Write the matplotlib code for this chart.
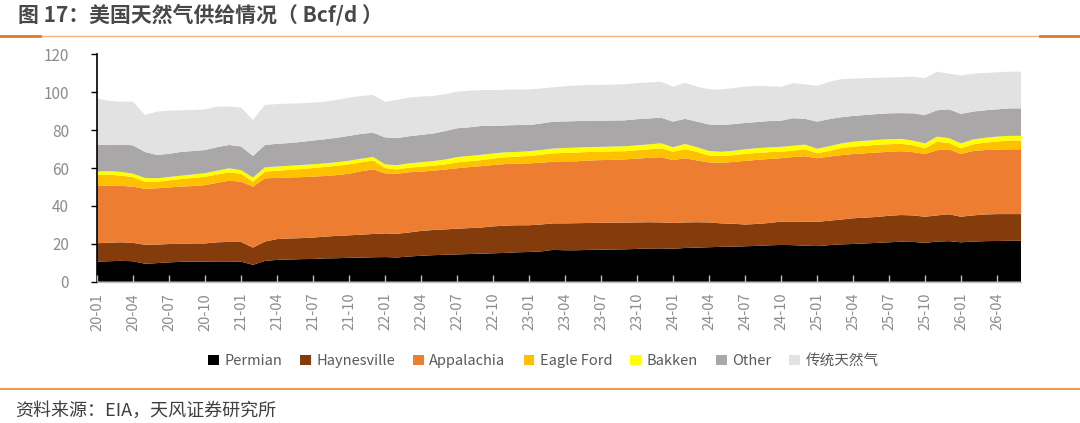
import matplotlib
matplotlib.use("Agg")
import matplotlib.pyplot as plt
from matplotlib.patches import Patch
from matplotlib.lines import Line2D
import numpy as np

plt.rcParams['font.family'] = ['Noto Sans CJK SC', 'DejaVu Sans']

# ---------------- data (Bcf/d), monthly 2020-01 .. 2026-06 ----------------
months = [f"{y:02d}-{m:02d}" for y in range(20, 27) for m in range(1, 13)][:78]

permian = [10.6,10.8,11.0,10.8,9.5,9.8,10.2,10.5,10.6,10.6,10.7,10.7,10.6,8.9,11.0,11.5,11.7,11.9,12.0,12.3,
           12.4,12.6,12.7,12.9,13.0,12.8,13.3,13.7,14.0,14.2,14.4,14.6,14.8,15.0,15.2,15.5,15.7,16.0,16.8,
           16.6,16.6,16.8,16.9,17.0,17.1,17.3,17.5,17.6,17.4,17.8,18.0,18.2,18.4,18.5,18.7,18.9,19.2,19.4,
           19.3,19.0,18.8,19.3,19.7,19.9,20.2,20.5,20.8,21.1,21.0,20.5,21.2,21.4,20.8,21.2,21.4,21.5,21.6,21.6]
haynesville = [9.7,9.8,9.8,9.7,10.0,9.8,9.7,9.5,9.6,9.6,10.1,10.3,10.4,9.1,10.2,11.0,11.1,11.1,11.3,11.5,
               11.8,11.9,12.1,12.3,12.5,12.5,12.7,13.1,13.3,13.4,13.6,13.7,13.8,14.2,14.4,14.3,14.1,14.2,14.0,
               14.2,14.3,14.2,14.2,14.2,14.1,14.0,13.9,13.7,13.6,13.5,13.4,13.1,12.4,12.1,11.5,11.6,11.8,12.3,
               12.5,12.7,12.8,12.9,13.1,13.6,13.6,13.7,14.0,14.1,14.0,13.8,13.8,14.2,13.5,13.8,14.1,14.2,14.1,14.1]
appalachia = [30.2,30.1,29.8,29.7,29.5,29.7,29.9,30.2,30.3,30.8,31.4,32.3,31.8,32.2,33.4,32.3,32.2,32.2,32.2,32.0,
              32.1,32.5,33.5,34.1,31.7,31.7,31.8,31.3,31.3,31.6,31.9,32.2,32.4,32.4,32.5,32.5,32.7,32.6,32.6,
              32.7,32.7,33.0,33.1,33.1,33.4,33.7,34.0,34.4,33.2,33.9,32.6,31.7,32.0,32.6,33.6,33.8,33.8,33.5,
              34.0,34.5,33.6,33.8,34.0,33.9,34.0,34.0,33.8,33.7,33.4,33.1,34.4,34.3,33.1,34.0,34.0,34.0,34.2,34.2]
eagle_ford = [5.8,5.8,5.4,5.0,3.8,3.5,3.7,4.0,4.3,4.4,4.4,4.4,4.2,2.6,3.5,3.8,4.0,4.3,4.5,4.8,
              4.9,5.0,4.7,4.7,2.8,2.3,2.4,2.6,2.6,2.7,3.1,3.1,3.2,3.4,3.6,3.7,3.9,4.2,4.4,
              4.5,4.6,4.5,4.4,4.5,4.3,4.4,4.5,4.7,4.4,4.7,4.5,3.6,3.6,3.6,3.7,3.7,3.6,3.4,
              3.4,3.7,2.6,3.0,3.7,3.9,4.0,4.1,4.0,3.9,3.6,3.0,4.5,3.3,3.0,3.5,3.9,4.3,4.6,4.6]
bakken = [1.8,1.9,2.0,1.8,2.0,1.8,1.8,1.8,1.8,1.9,2.0,2.2,1.9,2.2,2.3,2.2,2.2,2.1,2.0,1.9,
          1.9,1.9,1.9,1.9,2.0,2.2,2.3,2.4,2.5,2.6,2.8,2.8,2.8,2.7,2.6,2.5,2.5,2.5,2.5,
          2.6,2.6,2.6,2.6,2.6,2.6,2.6,2.6,2.7,2.4,2.8,2.5,2.4,2.2,2.3,2.4,2.5,2.5,2.6,
          2.6,2.5,2.4,2.5,2.5,2.6,2.6,2.6,2.6,2.6,2.5,2.6,2.7,2.6,2.6,2.6,2.6,2.6,2.5,2.5]
other = [14.1,13.9,14.4,15.0,13.7,12.3,12.2,12.5,12.4,12.2,12.4,12.3,12.5,11.4,11.8,12.0,12.0,12.2,12.5,12.7,
         12.9,13.1,13.1,12.8,14.2,14.3,14.3,14.4,14.5,15.0,15.2,15.1,15.2,14.5,14.2,14.2,13.8,14.0,14.2,
         14.0,14.0,13.9,13.8,13.7,13.7,13.8,13.7,13.5,13.5,13.3,13.5,14.0,14.1,14.1,13.9,13.8,13.9,13.8,
         14.5,13.6,14.3,14.3,13.8,13.6,13.6,13.6,13.7,13.6,14.4,15.0,13.9,15.2,15.6,14.7,14.5,14.4,14.5,14.5]
conventional = [24.6,23.2,22.6,23.0,19.5,22.9,22.8,22.0,21.6,21.5,21.4,20.3,20.6,19.0,21.1,21.0,20.8,20.4,20.1,19.8,
                20.0,20.2,20.0,19.9,18.8,20.2,20.4,20.3,19.8,19.5,19.3,19.3,19.0,19.0,18.8,18.8,18.8,18.5,18.1,
                18.6,18.8,18.9,18.9,18.9,19.1,19.0,19.0,19.0,18.4,19.0,18.5,18.6,18.8,19.0,19.2,19.1,18.4,17.9,
                18.5,18.2,18.9,19.7,20.1,19.7,19.5,19.1,18.9,19.0,19.3,19.5,20.4,18.8,20.3,20.0,19.7,19.5,19.4,19.4]

series_names = ["Permian", "Haynesville", "Appalachia", "Eagle Ford", "Bakken", "Other", "传统天然气"]
series_colors = ["#000000", "#843C0C", "#ED7D31", "#FFC000", "#FFFF00", "#A9A7A7", "#E2E2E2"]
y_ticks = [0, 20, 40, 60, 80, 100, 120]

# ---------------- figure ----------------
fig = plt.figure(figsize=(10.8, 4.23), dpi=100)
ax = fig.add_axes([97/1080, 1-281.7/423, (1021-97)/1080, (281.7-54.4)/423])

x = np.arange(len(months))
ax.stackplot(x, permian, haynesville, appalachia, eagle_ford, bakken, other, conventional,
             colors=series_colors, linewidth=0, edgecolor='none')

ax.set_xlim(0, len(months)-1)
ax.set_ylim(0, 120)
ax.set_yticks(y_ticks)
ax.set_yticklabels([str(v) for v in y_ticks], color="#8C8C8C", fontsize=11)
ax.tick_params(axis='y', direction='out', length=4, color="#000000", width=1, pad=16)

tick_pos = list(range(0, len(months), 3))
ax.set_xticks(tick_pos)
ax.set_xticklabels([months[i] for i in tick_pos], rotation=90, color="#8C8C8C", fontsize=10.5)
ax.tick_params(axis='x', direction='in', length=5, color="#BFBFBF", width=1, pad=8)

for s in ['top', 'right']:
    ax.spines[s].set_visible(False)
ax.spines['left'].set_color("#000000")
ax.spines['left'].set_linewidth(1.2)
ax.spines['bottom'].set_color("#BFBFBF")
ax.spines['bottom'].set_linewidth(1)
ax.set_axisbelow(False)

# legend
handles = [Patch(facecolor=c, edgecolor='none', label=n) for n, c in zip(series_names, series_colors)]
fig.legend(handles=handles, loc='center', bbox_to_anchor=(0.503, 1-361/423), ncol=7,
           frameon=False, fontsize=10.5, labelcolor="#595959",
           handlelength=0.75, handleheight=0.75, handletextpad=0.35, columnspacing=1.25)

# title, decorative lines, source
fig.text(18/1080, 1-15/423, "图 17：美国天然气供给情况（ Bcf/d ）", fontsize=15, fontweight='bold',
         color="#484848", ha='left', va='center')
fig.add_artist(Line2D([0, 1], [1-36/423]*2, transform=fig.transFigure, color="#F4B183", lw=1))
fig.add_artist(Line2D([0, 40/1080], [1-36/423]*2, transform=fig.transFigure, color="#E07B2A", lw=2))
fig.add_artist(Line2D([1040/1080, 1], [1-36/423]*2, transform=fig.transFigure, color="#E07B2A", lw=2))
fig.add_artist(Line2D([0, 1], [1-389/423]*2, transform=fig.transFigure, color="#ED9A4F", lw=1.5))
fig.text(15/1080, 1-411/423, "资料来源：EIA，天风证券研究所", fontsize=13, color="#3F3F3F",
         ha='left', va='center')

fig.savefig("out.png", dpi=100)
